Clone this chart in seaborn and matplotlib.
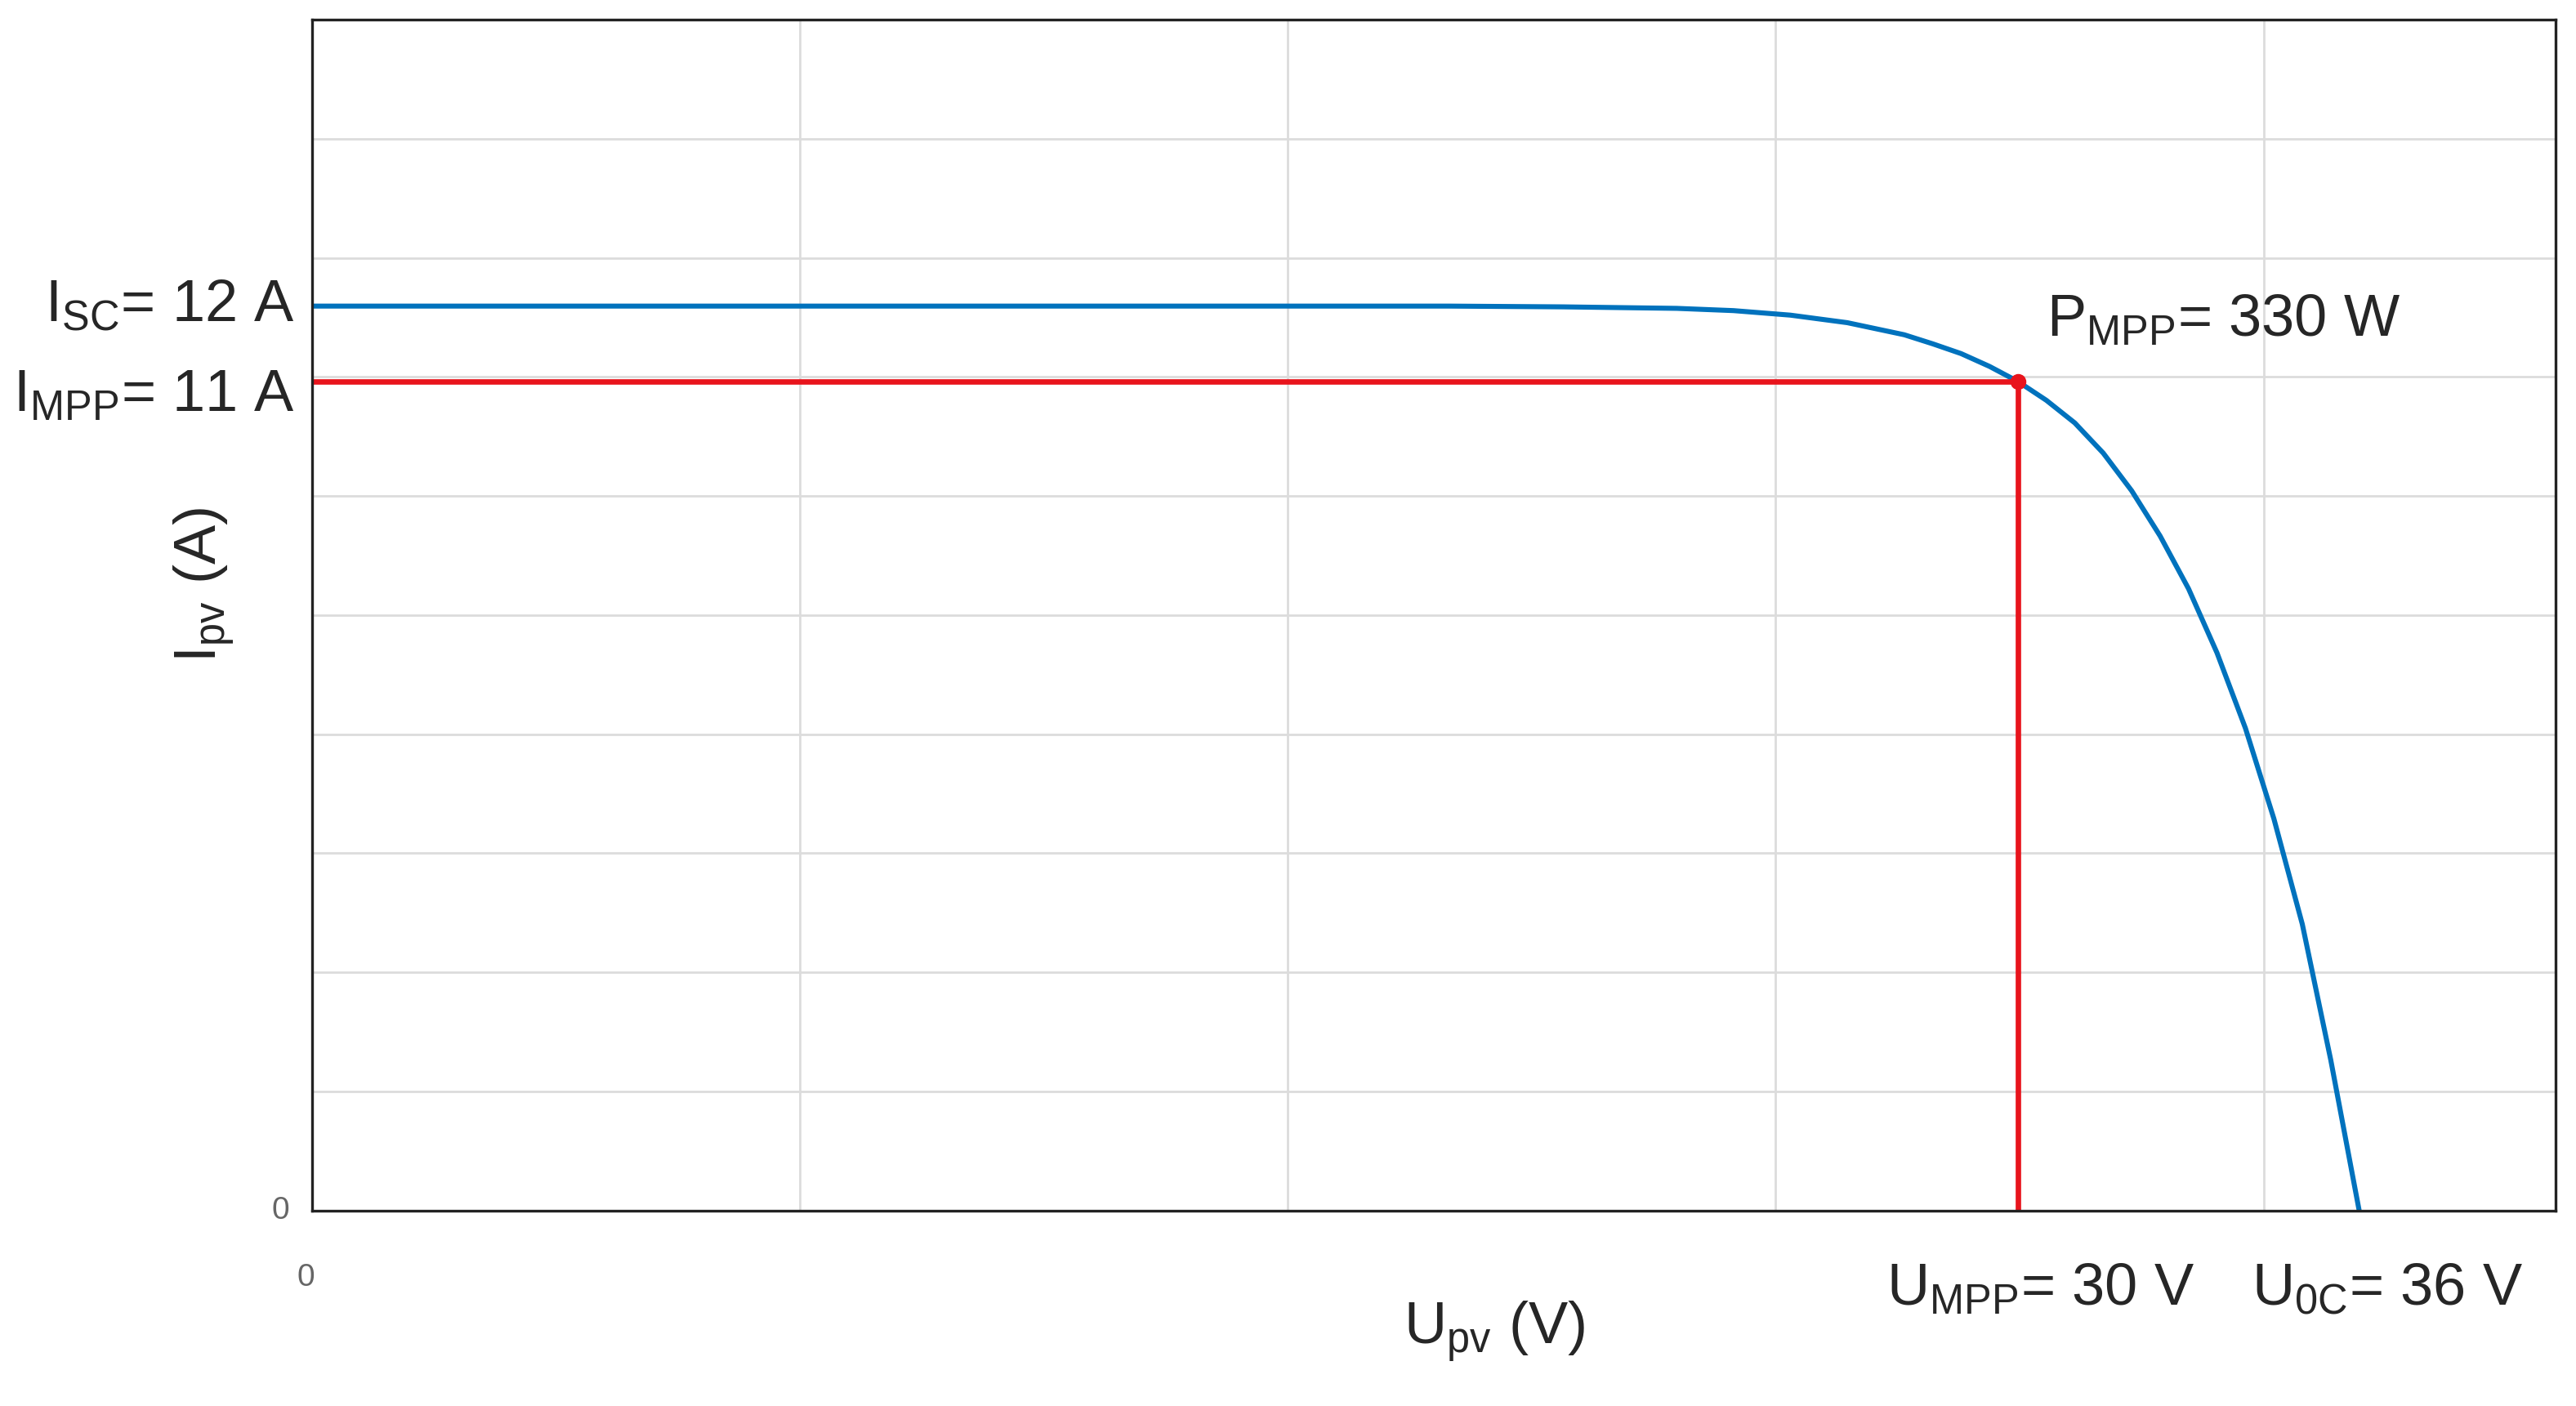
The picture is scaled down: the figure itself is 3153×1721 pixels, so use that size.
import numpy as np
import matplotlib
matplotlib.use("Agg")
import matplotlib.pyplot as plt
import seaborn as sns

# I-V curve
u_pv = [0, 10, 20, 22, 24, 25, 26, 27, 28, 28.5, 29, 29.5, 30, 30.5, 31, 31.5, 32,
        32.5, 33, 33.5, 34, 34.5, 35, 35.5, 36]
i_pv = [12, 12, 12, 11.99, 11.97, 11.94, 11.88, 11.78, 11.62, 11.5, 11.37, 11.2, 11.0,
        10.75, 10.45, 10.05, 9.55, 8.95, 8.25, 7.4, 6.4, 5.2, 3.8, 2.0, 0]
u_mpp = 30
i_mpp = 11
u_oc = 36
i_sc = 12

sns.set_theme(style="whitegrid")
plt.rcParams['font.family'] = ['Liberation Sans', 'DejaVu Sans']
plt.rcParams['mathtext.fontset'] = 'custom'
plt.rcParams['mathtext.rm'] = 'Liberation Sans'
plt.rcParams['mathtext.it'] = 'Liberation Sans'

fig = plt.figure(figsize=(15.765, 8.605), dpi=200)
ax = fig.add_axes([0.121, 0.139, 0.871, 0.847])

sns.lineplot(x=u_pv, y=i_pv, ax=ax, color='#0072BD', linewidth=2.2)
ax.plot([0, u_mpp], [i_mpp, i_mpp], color='#E8141C', linewidth=2.4)
ax.plot([u_mpp, u_mpp], [i_mpp, 0], color='#E8141C', linewidth=2.4)
ax.plot([u_mpp], [i_mpp], 'o', color='#E8141C', markersize=6)

step_x = 8.58
step_y = 1.58
ax.set_xlim(0, 39.45)
ax.set_ylim(0, 15.8)
ax.set_xticks([step_x * k for k in range(5)])
ax.set_yticks([step_y * k for k in range(11)])
ax.set_xticklabels([])
ax.set_yticklabels([])
ax.grid(True, color='#dcdcdc', linewidth=1.0)
for s in ax.spines.values():
    s.set_color('#222222')
    s.set_linewidth(1.2)
ax.tick_params(length=0)

big = 26
ax.text(-0.4, 0, '0', fontsize=14, color='#666666', ha='right', va='center')
ax.text(-0.1, -0.7, '0', fontsize=14, color='#666666', ha='center', va='top')
ax.text(-0.3, i_sc, r'$\mathregular{I_{SC}}$= 12 A', fontsize=big, ha='right', va='center')
ax.text(-0.3, i_mpp - 0.2, r'$\mathregular{I_{MPP}}$= 11 A', fontsize=big, ha='right', va='center')
ax.text(30.5, 11.8, r'$\mathregular{P_{MPP}}$= 330 W', fontsize=big, ha='left', va='center')
ax.text(u_mpp + 0.4, -1.05, r'$\mathregular{U_{MPP}}$= 30 V', fontsize=big, ha='center', va='center')
ax.text(u_oc + 0.5, -1.05, r'$\mathregular{U_{0C}}$= 36 V', fontsize=big, ha='center', va='center')
ax.text(20.8, -1.6, r'$\mathregular{U_{pv}}$ (V)', fontsize=big, ha='center', va='center')
ax.text(-1.9, 8.3, r'$\mathregular{I_{pv}}$ (A)', fontsize=big, ha='center', va='center', rotation=90)

fig.savefig("out.png", dpi=200)
